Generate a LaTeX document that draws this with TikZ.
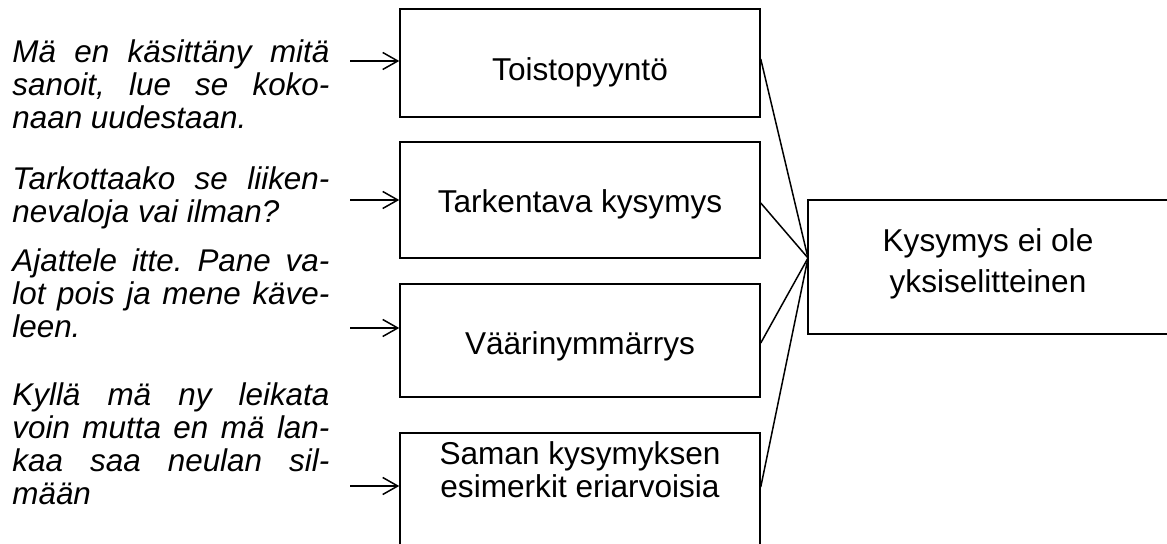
\documentclass[tikz,border=0pt]{standalone}
\usepackage{fontspec}
\setmainfont{Liberation Sans}
\usetikzlibrary{arrows.meta}
\frenchspacing

\newlength{\quotew}
\setlength{\quotew}{158.5pt}
\newcommand{\jline}[1]{\makebox[\quotew][s]{#1}}

\tikzset{
  box/.style={draw, line width=0.75pt, inner sep=0pt, minimum width=180pt},
  boxtext/.style={inner sep=0pt, align=center, anchor=base,
    font=\fontsize{15.8pt}{16.5pt}\selectfont},
  quote/.style={inner sep=0pt, align=left, anchor=base west,
    font=\fontsize{15.7pt}{16.5pt}\selectfont\itshape},
  link/.style={line width=0.75pt},
  arr/.style={line width=0.75pt, -{Straight Barb[length=7.5pt, width=8.5pt, line width=0.75pt]}},
}

\begin{document}
\begin{tikzpicture}[x=0.5pt, y=-0.5pt]
  \useasboundingbox (0,0) rectangle (1167,544);
  \clip (0,0) rectangle (1167,544);

  % category boxes
  \node[box, minimum height=54pt]   (b1) at (580,63) {};
  \node[box, minimum height=58pt]   (b2) at (580,200) {};
  \node[box, minimum height=56.5pt] (b3) at (580,340.5) {};
  \node[box, minimum height=63.5pt] (b4) at (580,496.5) {};
  \node[box, minimum height=67pt]   (r)  at (988,267) {};

  % box labels (anchored on the baseline of their last line)
  \node[boxtext] (l1) at (580,81) {Toistopyyntö};
  \node[boxtext] (l2) at (580,213) {Tarkentava kysymys};
  \node[boxtext] (l3) at (580,355) {Väärinymmärrys};
  \node[boxtext] (l4) at (580,498) {Saman kysymyksen\\esimerkit eriarvoisia};
  \node[boxtext, font=\fontsize{15.8pt}{20.5pt}\selectfont] (lr) at (988,293)
    {Kysymys ei ole\\yksiselitteinen};

  % example utterances (anchored on the baseline of their last line)
  \node[quote] (q1) at (12,129)
    {\jline{Mä en käsittäny mitä}\\\jline{sanoit, lue se koko-}\\naan uudestaan.};
  \node[quote] (q2) at (12,223)
    {\jline{Tarkottaako se liiken-}\\nevaloja vai ilman?};
  \node[quote] (q3) at (12,338)
    {\jline{Ajattele itte. Pane va-}\\\jline{lot pois ja mene käve-}\\leen.};
  \node[quote] (q4) at (12,505)
    {\jline{Kyllä mä ny leikata}\\\jline{voin mutta en mä lan-}\\\jline{kaa saa neulan sil-}\\mään};

  % arrows from utterances to boxes
  \coordinate (t1) at (350,61);
  \coordinate (t2) at (350,200);
  \coordinate (t3) at (350,328);
  \coordinate (t4) at (350,486);
  \draw[arr] (t1) -- (t1 -| b1.west);
  \draw[arr] (t2) -- (t2 -| b2.west);
  \draw[arr] (t3) -- (t3 -| b3.west);
  \draw[arr] (t4) -- (t4 -| b4.west);

  % links converging on the summary box
  \coordinate (m)  at (808,258);
  \coordinate (s1) at (760,59);
  \coordinate (s2) at (760,203);
  \coordinate (s3) at (760,343);
  \coordinate (s4) at (760,487);
  \draw[link] (b1.east |- s1) -- (m);
  \draw[link] (b2.east |- s2) -- (m);
  \draw[link] (b3.east |- s3) -- (m);
  \draw[link] (b4.east |- s4) -- (m);
\end{tikzpicture}
\end{document}
